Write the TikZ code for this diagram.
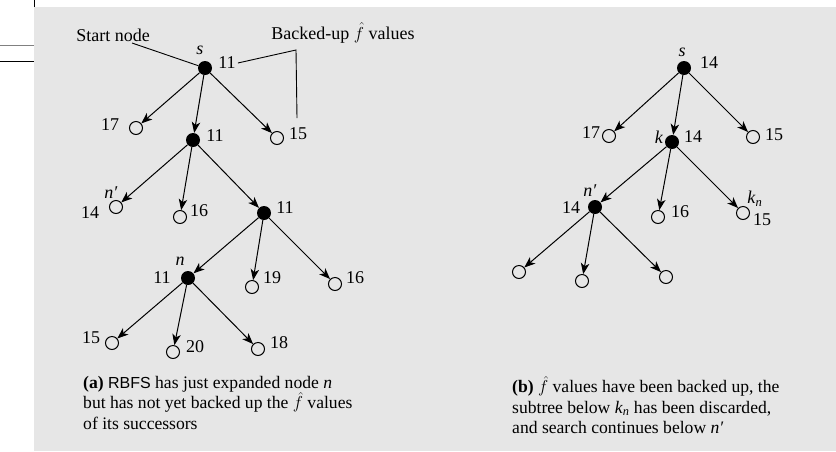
\documentclass[tikz,border=0pt]{standalone}
\usepackage{fontspec}
\setmainfont{Liberation Serif}
\newfontfamily\rbfsfont{Liberation Sans}
\usetikzlibrary{arrows.meta}
\definecolor{paper}{HTML}{E6E6E6}
\begin{document}
\begin{tikzpicture}[x=1pt,y=-1pt,
 full/.style={circle,fill=black,inner sep=0pt,minimum size=14pt},
 open/.style={circle,draw=black,line width=1pt,fill=paper,inner sep=0pt,minimum size=13pt},
 lbl/.style={inner sep=0pt,font=\fontsize{18}{20}\selectfont},
 captext/.style={inner sep=0pt,anchor=north west,align=left,font=\fontsize{17.6}{20.5}\selectfont},
 edge/.style={draw,line width=1pt,-{Stealth[length=11pt,width=8.5pt,inset=3pt]}},
 lead/.style={draw,line width=0.9pt}]
\useasboundingbox (0,0) rectangle (836,451);
\fill[white] (0,0) rectangle (836,451);
\fill[paper] (34,7) rectangle (836,451);
\draw[line width=1pt] (34,0) -- (34,7);
\draw[gray,line width=1pt] (0,45) -- (34,45);
\draw[line width=1pt] (0,61) -- (34,61);

% ---------- tree (a) ----------
\node[full] (as) at (205,68) {};
\node[open] (a17) at (136,128) {};
\node[full] (ab) at (193,140) {};
\node[open] (a15) at (277,138) {};
\node[open] (anp) at (116,207) {};
\node[open] (a16) at (180,217) {};
\node[full] (ac) at (264,213) {};
\node[full] (an) at (188,278) {};
\node[open] (a19) at (252,287) {};
\node[open] (a16b) at (335,284) {};
\node[open] (a15b) at (112,343) {};
\node[open] (a20) at (173,352) {};
\node[open] (a18) at (258,349) {};

\foreach \u/\v in {as/a17,as/ab,as/a15,ab/anp,ab/a16,ab/ac,ac/an,ac/a19,ac/a16b,an/a15b,an/a20,an/a18}
  \draw[edge] (\u) -- (\v);

\node[lbl] (las) at (200,50) {\textit{s}};
\node[lbl] (las11) at (227,63) {11};
\node[lbl] (la17) at (110,125) {17};
\node[lbl] (lab11) at (215,136) {11};
\node[lbl] (la15) at (298,134) {15};
\node[lbl] (lanp) at (111,193) {\textit{n\char"2032}};
\node[lbl] (la14) at (90,213) {14};
\node[lbl] (la16) at (199,211) {16};
\node[lbl] (lac11) at (285,208) {11};
\node[lbl] (lan) at (180,261) {\textit{n}};
\node[lbl] (lan11) at (162,278) {11};
\node[lbl] (la19) at (272,278) {19};
\node[lbl] (la16b) at (355,278) {16};
\node[lbl] (la15b) at (91,338) {15};
\node[lbl] (la20) at (195,347) {20};
\node[lbl] (la18) at (279,343) {18};

\node[lbl] (start) at (113,35) {Start node};
\node[lbl] (backed) at (343,33) {Backed-up $\hat{f}$ values};
\coordinate (sl) at (132,43);
\coordinate (apex) at (296,50);
\coordinate (bend) at (297,118);
\draw[lead] (sl) -- (as);
\draw[lead] (las11.east) ++(2,0) -- (apex) -- (bend);

\node[captext] (capa) at (83,376) {\textbf{(a)} {\rbfsfont\fontsize{16}{20.5}\selectfont RBFS} has just expanded node \textit{n}\\
but has not yet backed up the $\hat{f}$ values\\
of its successors};

% ---------- tree (b) ----------
\node[full] (bs) at (684,68) {};
\node[open] (b17) at (609,136) {};
\node[full] (bk) at (672,142) {};
\node[open] (b15) at (753,137) {};
\node[full] (bnp) at (595,207) {};
\node[open] (b16) at (658,217) {};
\node[open] (bkn) at (743,213) {};
\node[open] (bl1) at (519,272) {};
\node[open] (bl2) at (582,281) {};
\node[open] (bl3) at (666,277) {};

\foreach \u/\v in {bs/b17,bs/bk,bs/b15,bk/bnp,bk/b16,bk/bkn,bnp/bl1,bnp/bl2,bnp/bl3}
  \draw[edge] (\u) -- (\v);

\node[lbl] (lbs) at (682,52) {\textit{s}};
\node[lbl] (lbs14) at (709,63) {14};
\node[lbl] (lb17) at (591,133) {17};
\node[lbl] (lbk) at (659,137) {\textit{k}};
\node[lbl] (lbk14) at (693,137) {14};
\node[lbl] (lb15) at (774,135) {15};
\node[lbl] (lbnp) at (590,191) {\textit{n\char"2032}};
\node[lbl] (lbnp14) at (571,208) {14};
\node[lbl] (lb16) at (680,212) {16};
\node[lbl] (lbkn) at (755,199) {\textit{k}\textsubscript{\textit{n}}};
\node[lbl] (lbkn15) at (762,220) {15};

\node[captext] (capb) at (512,376) {\textbf{(b)} $\hat{f}$ values have been backed up, the\\
subtree below \textit{k}\textsubscript{\textit{n}} has been discarded,\\
and search continues below \textit{n\char"2032}};
\end{tikzpicture}
\end{document}
